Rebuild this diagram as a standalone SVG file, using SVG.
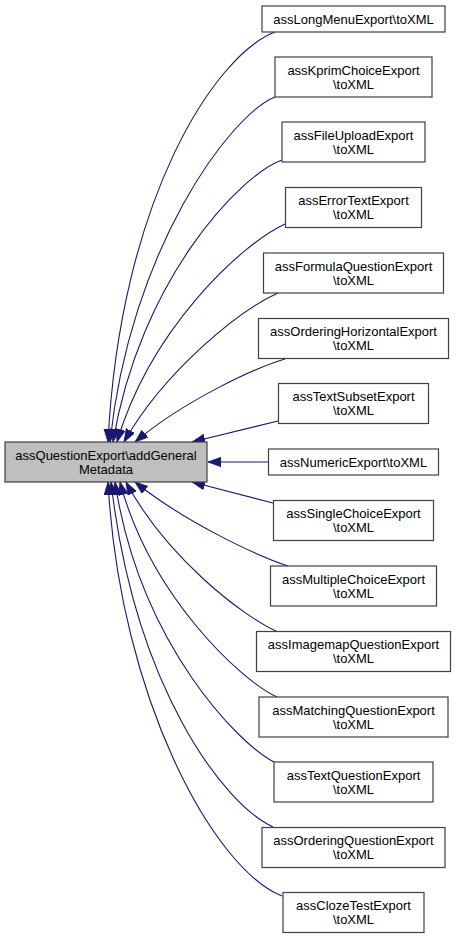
<svg xmlns="http://www.w3.org/2000/svg" width="456" height="939" viewBox="0 0 456 939">
<style>
.n rect{fill:#ffffff;stroke:#404040;stroke-width:1.2}
.n.cur rect{fill:#bfbfbf}
.n text{font-family:"Liberation Sans",Arial,Helvetica,sans-serif;font-size:13px;fill:#000;text-anchor:middle}
.e path{fill:none;stroke:#191970;stroke-width:1.1}
</style>
<defs>
<marker id="ah" markerUnits="userSpaceOnUse" markerWidth="14" markerHeight="10" refX="13" refY="4.7" orient="auto">
<path d="M0,0 L13,4.7 L0,9.4 z" fill="#191970" stroke="#191970" stroke-width="0.8"/>
</marker>
</defs>
<rect width="456" height="939" fill="#ffffff"/>
<g id="edges" class="e">
<path marker-end="url(#ah)" d="M275,32 C215,55 120,200 108,442"/>
<path marker-end="url(#ah)" d="M275,97 C230,115 130,250 110,442"/>
<path marker-end="url(#ah)" d="M282,160 C240,175 140,280 113,442"/>
<path marker-end="url(#ah)" d="M285,224 C240,245 150,330 117,442"/>
<path marker-end="url(#ah)" d="M278,293 C240,310 165,370 124,442"/>
<path marker-end="url(#ah)" d="M285,359 C255,368 185,400 135,442"/>
<path marker-end="url(#ah)" d="M278,421 L192,442"/>
<path marker-end="url(#ah)" d="M268,462 L208,462"/>
<path marker-end="url(#ah)" d="M273,503 L192,482"/>
<path marker-end="url(#ah)" d="M288,566 C255,555 185,522 135,482"/>
<path marker-end="url(#ah)" d="M278,632 C240,615 165,555 126,482"/>
<path marker-end="url(#ah)" d="M277,697 C240,680 150,595 120,482"/>
<path marker-end="url(#ah)" d="M274,762 C240,745 140,645 115,482"/>
<path marker-end="url(#ah)" d="M273,827 C225,805 135,690 111,482"/>
<path marker-end="url(#ah)" d="M282,896 C215,870 120,700 108,482"/>
</g>
<g id="node_main" class="n cur"><rect x="5" y="442" width="202" height="40"/><text x="106" y="459.5">assQuestionExport\addGeneral</text><text x="106" y="473.5">Metadata</text></g>
<g id="node_longmenu" class="n"><rect x="262" y="6" width="183" height="26"/><text x="353.5" y="23.5">assLongMenuExport\toXML</text></g>
<g id="node_kprim" class="n"><rect x="275" y="57" width="157" height="40"/><text x="353.5" y="74.5">assKprimChoiceExport</text><text x="353.5" y="88.5">\toXML</text></g>
<g id="node_fileupload" class="n"><rect x="282" y="122" width="143" height="40"/><text x="353.5" y="139.5">assFileUploadExport</text><text x="353.5" y="153.5">\toXML</text></g>
<g id="node_errortext" class="n"><rect x="285.5" y="187.5" width="136" height="40"/><text x="353.5" y="205">assErrorTextExport</text><text x="353.5" y="219">\toXML</text></g>
<g id="node_formula" class="n"><rect x="263.5" y="253" width="180" height="40"/><text x="353.5" y="270.5">assFormulaQuestionExport</text><text x="353.5" y="284.5">\toXML</text></g>
<g id="node_orderinghorizontal" class="n"><rect x="258.5" y="318.5" width="190" height="40"/><text x="353.5" y="336">assOrderingHorizontalExport</text><text x="353.5" y="350">\toXML</text></g>
<g id="node_textsubset" class="n"><rect x="278.5" y="383.5" width="150" height="40"/><text x="353.5" y="401">assTextSubsetExport</text><text x="353.5" y="415">\toXML</text></g>
<g id="node_numeric" class="n"><rect x="268.5" y="449" width="170" height="26"/><text x="353.5" y="466.5">assNumericExport\toXML</text></g>
<g id="node_singlechoice" class="n"><rect x="273.5" y="500.5" width="160" height="40"/><text x="353.5" y="518">assSingleChoiceExport</text><text x="353.5" y="532">\toXML</text></g>
<g id="node_multiplechoice" class="n"><rect x="270.5" y="566" width="166" height="40"/><text x="353.5" y="583.5">assMultipleChoiceExport</text><text x="353.5" y="597.5">\toXML</text></g>
<g id="node_imagemap" class="n"><rect x="256.5" y="631.5" width="194" height="40"/><text x="353.5" y="649">assImagemapQuestionExport</text><text x="353.5" y="663">\toXML</text></g>
<g id="node_matching" class="n"><rect x="259" y="697" width="189" height="40"/><text x="353.5" y="714.5">assMatchingQuestionExport</text><text x="353.5" y="728.5">\toXML</text></g>
<g id="node_textquestion" class="n"><rect x="274" y="762" width="159" height="40"/><text x="353.5" y="779.5">assTextQuestionExport</text><text x="353.5" y="793.5">\toXML</text></g>
<g id="node_orderingquestion" class="n"><rect x="262" y="827.5" width="183" height="40"/><text x="353.5" y="845">assOrderingQuestionExport</text><text x="353.5" y="859">\toXML</text></g>
<g id="node_clozetest" class="n"><rect x="283" y="892.5" width="141" height="40"/><text x="353.5" y="910">assClozeTestExport</text><text x="353.5" y="924">\toXML</text></g>
</svg>
